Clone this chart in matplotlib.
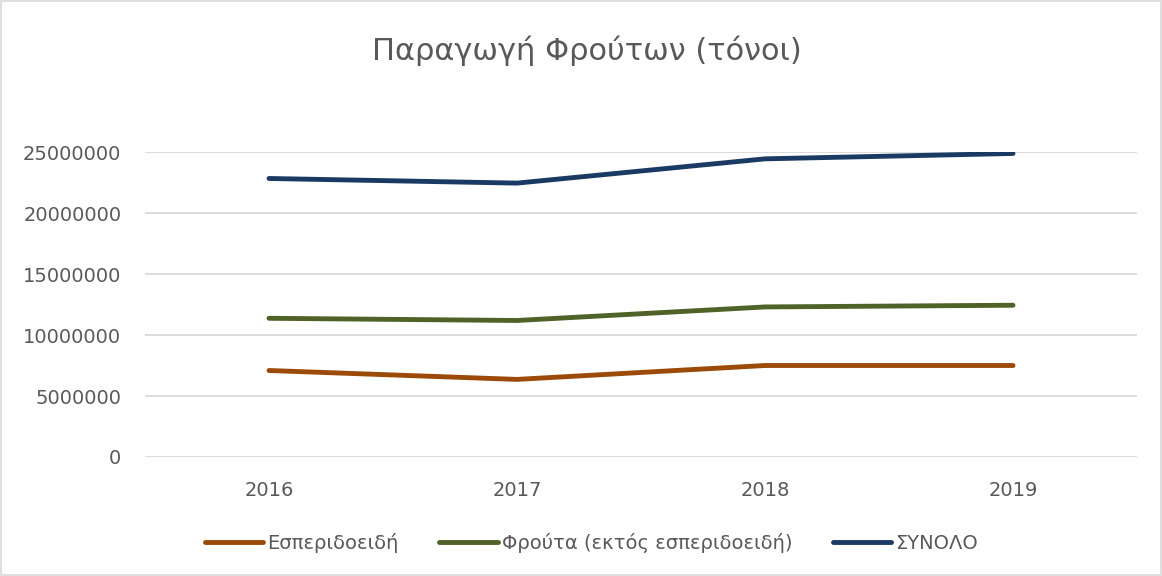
import matplotlib.pyplot as plt
from matplotlib.patches import Rectangle

years = ["2016", "2017", "2018", "2019"]
citrus = [7090000, 6360000, 7500000, 7500000]
fruit_other = [11370000, 11190000, 12300000, 12440000]
total = [22830000, 22450000, 24440000, 24880000]

labels = ["Εσπεριδοειδή", "Φρούτα (εκτός εσπεριδοειδή)", "ΣΥΝΟΛΟ"]
colors = ["#9C4A08", "#4F6228", "#1B3A63"]
text_col = "#595959"

plt.rcParams["font.family"] = ["DejaVu Sans"]

fig = plt.figure(figsize=(11.62, 5.76), dpi=100)
ax = fig.add_axes([0.1248, 0.2066, 0.8537, 0.5295])

x = range(len(years))
for vals, lab, c in zip([citrus, fruit_other, total], labels, colors):
    ax.plot(x, vals, color=c, lw=3.5, label=lab, solid_capstyle="round")

ax.set_xlim(-0.5, len(years) - 0.5)
ax.set_ylim(0, 25000000)
ax.set_yticks(range(0, 25000001, 5000000))
ax.set_yticklabels([str(v) for v in range(0, 25000001, 5000000)])
ax.set_xticks(list(x))
ax.set_xticklabels(years)
ax.grid(axis="y", color="#D9D9D9", lw=1.3)
ax.set_axisbelow(True)
for s in ax.spines.values():
    s.set_visible(False)
ax.tick_params(length=0, labelsize=14, colors=text_col)
ax.tick_params(axis="y", pad=17)
ax.tick_params(axis="x", pad=17)

fig.text(0.505, 0.912, "Παραγωγή Φρούτων (τόνοι)", ha="center", va="center",
         fontsize=22, color=text_col)

leg = fig.legend(loc="center", bbox_to_anchor=(0.509, 0.057), ncol=3, frameon=False,
                 fontsize=14, handlelength=3.0, handletextpad=0.2, columnspacing=2.1)
for t in leg.get_texts():
    t.set_color(text_col)

fig.patches.append(Rectangle((0.001, 0.001), 0.998, 0.997, transform=fig.transFigure,
                             fill=False, edgecolor="#D9D9D9", lw=1.2))

fig.savefig("out.png", dpi=100)
